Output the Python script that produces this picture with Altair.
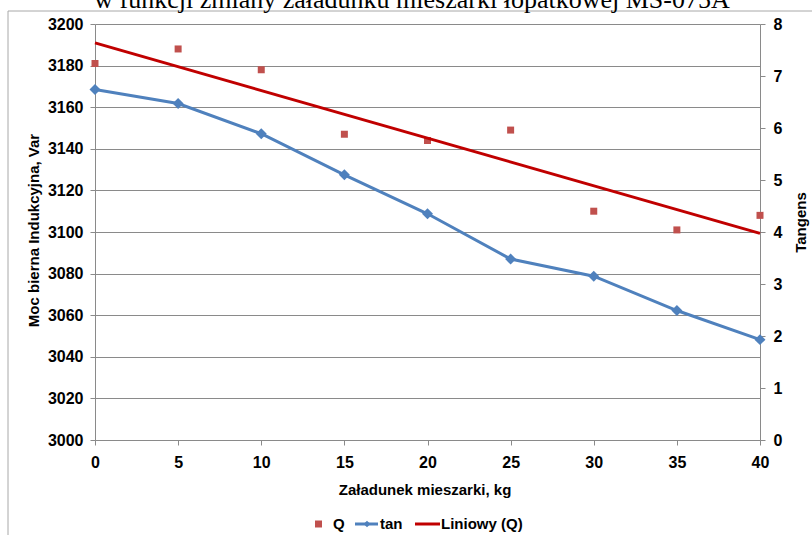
import altair as alt
import pandas as pd

# Loading of the paddle mixer, kg
load_kg = [0, 5, 10, 15, 20, 25, 30, 35, 40]
# Inductive reactive power Q, var
q_var = [3181, 3188, 3178, 3147, 3144, 3149, 3110, 3101, 3108]
# tan(phi)
tan_phi = [6.74, 6.47, 5.89, 5.10, 4.35, 3.48, 3.15, 2.49, 1.93]

title_text = "w funkcji zmiany załadunku mieszarki łopatkowej MS-075A"

df = pd.DataFrame({"x": load_kg, "q": q_var, "tan": tan_phi})

W, H = 665, 416
PAD_L, PAD_T = 95, 24
FONT = "Liberation Sans"
GRAY = "#8a8a8a"

x_enc = alt.X(
    "x:Q",
    scale=alt.Scale(domain=[0, 40], nice=False, zero=False),
    axis=alt.Axis(
        values=list(range(0, 41, 5)),
        title="Załadunek mieszarki, kg",
        grid=False,
        tickSize=5,
        labelPadding=9,
        labelFlush=False,
        titleY=49,
        titleBaseline="middle",
        titleX=W / 2 - 3,
    ),
)

base = alt.Chart(df)

q_scale = alt.Scale(domain=[3000, 3200], nice=False, zero=False)

q_points = base.mark_square(size=49, color="#C0504D", opacity=1).encode(
    x=x_enc,
    y=alt.Y(
        "q:Q",
        scale=q_scale,
        axis=alt.Axis(
            orient="left",
            values=list(range(3000, 3201, 20)),
            format="d",
            title="Moc bierna Indukcyjna, Var",
            grid=True,
            tickSize=5,
            labelPadding=7,
            labelFlush=False,
            titleX=-62,
            titleY=H / 2 - 2,
            titleBaseline="middle",
            titleAngle=270,
        ),
    ),
)

q_trend = (
    base.transform_regression("x", "q", extent=[0, 40])
    .mark_line(color="#C00000", strokeWidth=3)
    .encode(x="x:Q", y=alt.Y("q:Q", scale=q_scale))
)

tan_line = base.mark_line(
    color="#4F81BD",
    strokeWidth=3,
    point=alt.OverlayMarkDef(shape="diamond", size=120, filled=True, color="#4F81BD", opacity=1),
).encode(
    x="x:Q",
    y=alt.Y(
        "tan:Q",
        scale=alt.Scale(domain=[0, 8], nice=False),
        axis=alt.Axis(
            orient="right",
            values=list(range(0, 9)),
            title="Tangens",
            grid=False,
            tickSize=5,
            labelPadding=8,
            labelFlush=False,
            titleAngle=270,
            titleX=40,
            titleY=H / 2 - 10,
            titleBaseline="middle",
        ),
    ),
)

one = alt.Data(values=[{}])


def txt(s, x, y, **kw):
    return alt.Chart(one).mark_text(text=s, **kw).encode(x=alt.value(x), y=alt.value(y))


def rule(x, x2, y, y2, **kw):
    return alt.Chart(one).mark_rule(**kw).encode(
        x=alt.value(x), x2=alt.value(x2), y=alt.value(y), y2=alt.value(y2)
    )


# chart frame (top and left edges)
frame = [
    rule(8 - PAD_L, 812 - PAD_L, 11 - PAD_T, 11 - PAD_T, color="#a8a8a8", strokeWidth=1),
    rule(8 - PAD_L, 8 - PAD_L, 11 - PAD_T, 535 - PAD_T, color="#a8a8a8", strokeWidth=1),
]

heading = txt(
    title_text, 412 - PAD_L, 8 - PAD_T,
    font="Liberation Serif", fontSize=26, align="center", baseline="alphabetic", color="black",
)

# legend row
ly = 524 - PAD_T
LEG = dict(font=FONT, fontWeight="bold", fontSize=15, align="left", baseline="middle", color="black")
legend = [
    alt.Chart(one).mark_square(size=49, color="#C0504D", opacity=1).encode(
        x=alt.value(318.5 - PAD_L), y=alt.value(ly)
    ),
    txt("Q", 333 - PAD_L, ly, **LEG),
    rule(355 - PAD_L, 378 - PAD_L, ly, ly, color="#4F81BD", strokeWidth=3),
    alt.Chart(one).mark_point(shape="diamond", size=45, filled=True, color="#4F81BD", opacity=1).encode(
        x=alt.value(367 - PAD_L), y=alt.value(ly)
    ),
    txt("tan", 380 - PAD_L, ly, **LEG),
    rule(415 - PAD_L, 440 - PAD_L, ly, ly, color="#C00000", strokeWidth=3),
    txt("Liniowy (Q)", 441 - PAD_L, ly, **LEG),
]

chart = (
    alt.layer(alt.layer(q_points, q_trend), tan_line, *frame, heading, *legend)
    .resolve_scale(y="independent")
    .properties(
        width=W,
        height=H,
        autosize=alt.AutoSizeParams(type="none"),
        padding={"left": PAD_L, "top": PAD_T, "right": 812 - PAD_L - W, "bottom": 535 - PAD_T - H},
        background="white",
    )
    .configure_view(stroke=None)
    .configure_axis(
        domainColor=GRAY,
        tickColor=GRAY,
        gridColor=GRAY,
        gridWidth=1,
        labelFont=FONT,
        labelFontWeight="bold",
        labelFontSize=16,
        labelColor="black",
        titleFont=FONT,
        titleFontWeight="bold",
        titleFontSize=15,
        titleColor="black",
    )
)

chart.save("out.html", embed_options={"renderer": "svg", "actions": False})
